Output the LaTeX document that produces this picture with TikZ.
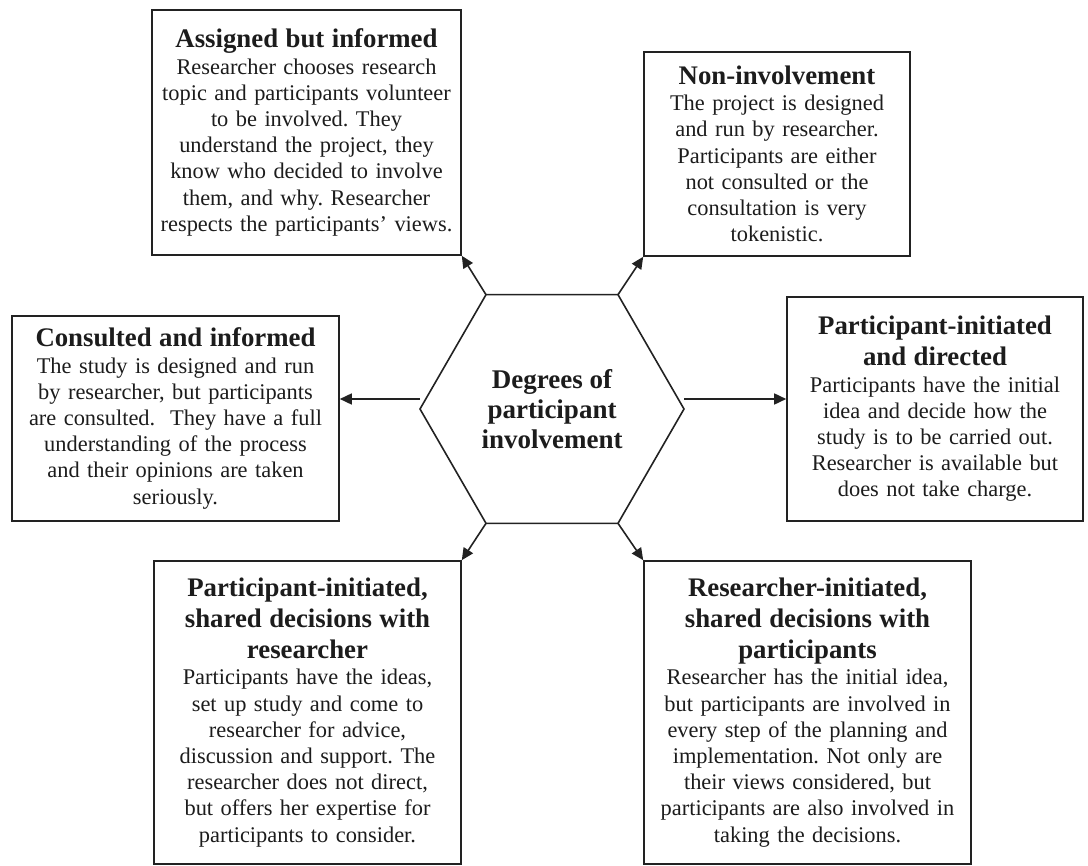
\documentclass[tikz,border=0pt]{standalone}
\usepackage{fontspec}
\setmainfont{Liberation Serif}
\usetikzlibrary{arrows.meta,shapes.geometric}
\definecolor{DPInk}{HTML}{1C1C1C}
\definecolor{DPLine}{HTML}{222222}
\newcommand{\boxhead}{\fontsize{13.4}{15.5}\selectfont\bfseries}
\frenchspacing

\begin{document}
\begin{tikzpicture}[x=0.5pt, y=-0.5pt,
  box/.style={draw=DPLine, line width=0.8pt, fill=white, inner sep=0pt, align=center, text=DPInk, font=\fontsize{11.2}{13.1}\selectfont},
  hexa/.style={regular polygon, regular polygon sides=6, draw=DPLine, line width=0.8pt, minimum size=132pt, inner sep=0pt, outer sep=0pt, align=center, text=DPInk, font=\fontsize{13.5}{15}\selectfont\bfseries},
  arrow/.style={-{Triangle[length=6pt, width=5.5pt]}, line width=0.8pt, draw=DPLine}
]
\useasboundingbox (0,0) rectangle (1088,866);
\node[hexa] (hub) at (552,409) {Degrees of\\participant\\involvement};
\node[box, minimum width=154.5pt, minimum height=122.5pt, text width=154.5pt] (assigned) at (306.5,132.5)
  {{\boxhead Assigned but informed\par}
   Researcher chooses research\\topic and participants volunteer\\to be involved. They\\understand the project, they\\know who decided to involve\\them, and why. Researcher\\respects the participants' views.};
\node[box, minimum width=133pt, minimum height=102pt, text width=133pt] (noninv) at (777,154)
  {{\boxhead Non-involvement\par}
   The project is designed\\and run by researcher.\\Participants are either\\not consulted or the\\consultation is very\\tokenistic.};
\node[box, minimum width=163.5pt, minimum height=102.5pt, text width=163.5pt] (consulted) at (175.5,418.5)
  {{\boxhead Consulted and informed\par}
   The study is designed and run\\by researcher, but participants\\are consulted.\ \ They have a full\\understanding of the process\\and their opinions are taken\\seriously.};
\node[box, minimum width=148pt, minimum height=112pt, text width=148pt] (directed) at (935,409)
  {{\boxhead Participant-initiated\\and directed\par}
   Participants have the initial\\idea and decide how the\\study is to be carried out.\\Researcher is available but\\does not take charge.};
\node[box, minimum width=153.5pt, minimum height=151.5pt, text width=153.5pt] (partshared) at (307.5,712.5)
  {{\boxhead Participant-initiated,\\shared decisions with\\researcher\par}
   Participants have the ideas,\\set up study and come to\\researcher for advice,\\discussion and support. The\\researcher does not direct,\\but offers her expertise for\\participants to consider.};
\node[box, minimum width=163.5pt, minimum height=151.5pt, text width=163.5pt] (resshared) at (807.5,712.5)
  {{\boxhead Researcher-initiated,\\shared decisions with\\participants\par}
   Researcher has the initial idea,\\but participants are involved in\\every step of the planning and\\implementation. Not only are\\their views considered, but\\participants are also involved in\\taking the decisions.};
\draw[arrow] (hub.120) -- (assigned.south east);
\draw[arrow] (hub.60) -- (noninv.south west);
\draw[arrow] ([yshift=5pt]hub.west) -- ([yshift=5pt]hub.west -| consulted.east);
\draw[arrow] ([yshift=5pt]hub.east) -- ([yshift=5pt]hub.east -| directed.west);
\draw[arrow] (hub.240) -- (partshared.north east);
\draw[arrow] (hub.300) -- (resshared.north west);
\end{tikzpicture}
\end{document}
